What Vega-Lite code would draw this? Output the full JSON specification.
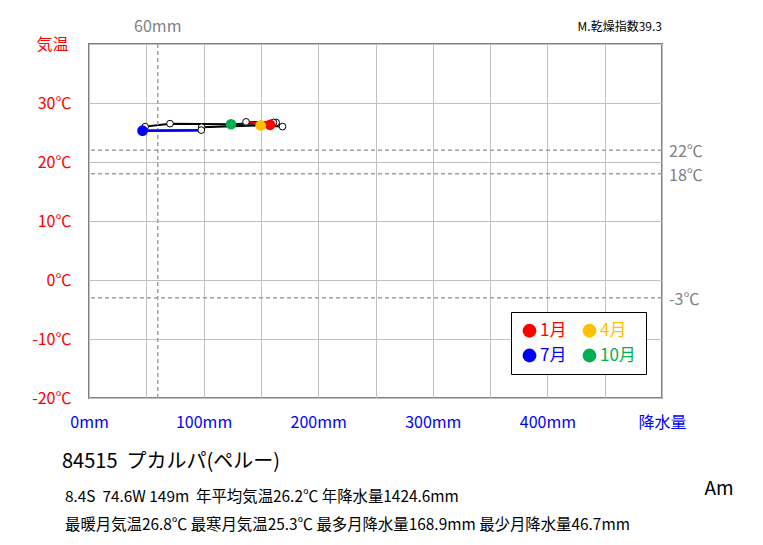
{
  "$schema": "https://vega.github.io/schema/vega-lite/v6.json",
  "autosize": {"type": "none"},
  "width": 573,
  "height": 354,
  "padding": {"left": 89, "top": 44, "right": 101, "bottom": 147},
  "background": "white",
  "config": {
    "view": {"stroke": "#808080", "strokeWidth": 2},
    "font": "Noto Sans CJK JP",
    "text": {"font": "Noto Sans CJK JP"}
  },
  "datasets": {
    "months": [
      {"month": 1, "precip": 158.0, "temp": 26.3, "leg": "1月"},
      {"month": 2, "precip": 163.3, "temp": 26.7},
      {"month": 3, "precip": 168.9, "temp": 26.0},
      {"month": 4, "precip": 149.8, "temp": 26.2, "leg": "4月"},
      {"month": 5, "precip": 98.3, "temp": 25.9},
      {"month": 6, "precip": 98.0, "temp": 25.4},
      {"month": 7, "precip": 46.7, "temp": 25.3, "leg": "7月"},
      {"month": 8, "precip": 49.0, "temp": 26.0},
      {"month": 9, "precip": 70.7, "temp": 26.5},
      {"month": 10, "precip": 123.9, "temp": 26.4, "leg": "10月"},
      {"month": 11, "precip": 161.0, "temp": 26.7},
      {"month": 12, "precip": 137.0, "temp": 26.8}
    ],
    "refs": [
      {"temp": 22, "label": "22℃"},
      {"temp": 18, "label": "18℃"},
      {"temp": -3, "label": "-3℃"}
    ],
    "vref": [{"precip": 60, "label": "60mm"}],
    "index": [{"label": "M.乾燥指数39.3"}],
    "koppen": [{"label": "Am"}],
    "station": [{"label": "84515\u00a0\u00a0プカルパ(ペルー)"}],
    "info1": [{"label": "8.4S\u00a0\u00a074.6W 149m\u00a0\u00a0年平均気温26.2℃ 年降水量1424.6mm"}],
    "info2": [{"label": "最暖月気温26.8℃ 最寒月気温25.3℃ 最多月降水量168.9mm 最少月降水量46.7mm"}]
  },
  "layer": [
    {
      "data": {"name": "months"},
      "mark": {"type": "line", "color": "black", "strokeWidth": 2},
      "encoding": {
        "x": {
          "field": "precip", "type": "quantitative",
          "scale": {"domain": [0, 500], "nice": false, "zero": false},
          "axis": {
            "title": null,
            "values": [0, 50, 100, 150, 200, 250, 300, 350, 400, 450, 500],
            "labelExpr": "datum.value == 500 ? '降水量' : (datum.value % 100 == 0 ? datum.value + 'mm' : '')",
            "grid": true, "gridColor": "#c0c0c0", "gridWidth": 1,
            "ticks": false, "domain": false,
            "labelColor": "#0000FF", "labelFontSize": 16, "labelPadding": 16,
            "labelOverlap": false, "labelBound": false, "labelFlush": false,
            "labelFont": "Noto Sans CJK JP"
          }
        },
        "y": {
          "field": "temp", "type": "quantitative",
          "scale": {"domain": [-20, 40], "nice": false, "zero": false},
          "axis": {
            "values": [-20, -10, 0, 10, 20, 30, 40],
            "labelExpr": "datum.value == 40 ? '' : datum.value + '℃'",
            "grid": true, "gridColor": "#c0c0c0", "gridWidth": 1,
            "ticks": false, "domain": false,
            "labelColor": "#FF0000", "labelFontSize": 16, "labelPadding": 18,
            "labelOverlap": false, "labelBound": false, "labelFlush": false,
            "labelFont": "Noto Sans CJK JP",
            "title": "気温", "titleAngle": 0, "titleColor": "#FF0000",
            "titleFontSize": 16, "titleFontWeight": "normal", "titleFont": "Noto Sans CJK JP",
            "titleX": -37, "titleY": 0, "titleAlign": "center", "titleBaseline": "middle"
          }
        },
        "order": {"field": "month", "type": "quantitative"}
      }
    },
    {
      "data": {"name": "refs"},
      "mark": {"type": "rule", "color": "#a0a0a0", "strokeWidth": 1.5, "strokeDash": [4, 3]},
      "encoding": {
        "y": {"field": "temp", "type": "quantitative"}
      }
    },
    {
      "data": {"name": "vref"},
      "mark": {"type": "rule", "color": "#a0a0a0", "strokeWidth": 1.5, "strokeDash": [4, 3]},
      "encoding": {
        "x": {"field": "precip", "type": "quantitative"}
      }
    },
    {
      "data": {"name": "refs"},
      "mark": {"type": "text", "align": "left", "baseline": "middle", "dx": 7, "dy": 2, "fontSize": 16, "color": "#808080"},
      "encoding": {
        "x": {"datum": 500, "type": "quantitative"},
        "y": {"field": "temp", "type": "quantitative"},
        "text": {"field": "label"}
      }
    },
    {
      "data": {"name": "vref"},
      "mark": {"type": "text", "align": "center", "baseline": "middle", "dy": -17, "fontSize": 16, "color": "#808080"},
      "encoding": {
        "x": {"field": "precip", "type": "quantitative"},
        "y": {"datum": 40, "type": "quantitative"},
        "text": {"field": "label"}
      }
    },
    {
      "data": {"name": "months"},
      "transform": [
        {"window": [{"op": "lead", "field": "precip", "as": "px2"}, {"op": "lead", "field": "temp", "as": "ty2"}], "sort": [{"field": "month"}]},
        {"filter": "datum.month == 6"}
      ],
      "mark": {"type": "rule", "color": "#0000FF", "strokeWidth": 2.5},
      "encoding": {
        "x": {"field": "precip", "type": "quantitative"},
        "y": {"field": "temp", "type": "quantitative"},
        "x2": {"field": "px2"},
        "y2": {"field": "ty2"}
      }
    },
    {
      "data": {"name": "months"},
      "transform": [
        {"window": [{"op": "first_value", "field": "precip", "as": "fx"}, {"op": "first_value", "field": "temp", "as": "fy"}], "sort": [{"field": "month"}], "frame": [null, null]},
        {"filter": "datum.month == 12"}
      ],
      "mark": {"type": "rule", "color": "#FF0000", "strokeWidth": 2.5},
      "encoding": {
        "x": {"field": "precip", "type": "quantitative"},
        "y": {"field": "temp", "type": "quantitative"},
        "x2": {"field": "fx"},
        "y2": {"field": "fy"}
      }
    },
    {
      "data": {"name": "months"},
      "transform": [{"filter": "!datum.leg"}],
      "mark": {"type": "point", "shape": "circle", "filled": true, "fill": "white", "stroke": "black", "strokeWidth": 1, "size": 45, "opacity": 1},
      "encoding": {
        "x": {"field": "precip", "type": "quantitative"},
        "y": {"field": "temp", "type": "quantitative"}
      }
    },
    {
      "data": {"name": "months"},
      "transform": [{"filter": "datum.leg"}],
      "mark": {"type": "point", "shape": "circle", "filled": true, "size": 115, "opacity": 1},
      "encoding": {
        "x": {"field": "precip", "type": "quantitative"},
        "y": {"field": "temp", "type": "quantitative"},
        "color": {
          "field": "leg", "type": "nominal",
          "scale": {"domain": ["1月", "4月", "7月", "10月"], "range": ["#FF0000", "#FFC000", "#0000FF", "#00B050"]},
          "legend": {
            "title": null, "orient": "none", "legendX": 422, "legendY": 268,
            "columns": 2, "direction": "horizontal",
            "symbolType": "circle", "symbolSize": 190, "symbolOpacity": 1, "symbolStrokeWidth": 0,
            "labelFontSize": 17, "labelFont": "Noto Sans CJK JP", "labelOffset": 2,
            "strokeColor": "black", "fillColor": "white", "padding": 10,
            "columnPadding": 14, "rowPadding": 7,
            "encode": {"labels": {"update": {"fill": {"scale": "color", "field": "value"}}}}
          }
        }
      }
    },
    {
      "data": {"name": "index"},
      "mark": {"type": "text", "align": "right", "baseline": "middle", "dy": -17, "fontSize": 12, "color": "black"},
      "encoding": {
        "x": {"datum": 500, "type": "quantitative"},
        "y": {"datum": 40, "type": "quantitative"},
        "text": {"field": "label"}
      }
    },
    {
      "data": {"name": "koppen"},
      "mark": {"type": "text", "align": "center", "baseline": "middle", "dx": 57, "dy": 91, "fontSize": 19, "color": "black"},
      "encoding": {
        "x": {"datum": 500, "type": "quantitative"},
        "y": {"datum": -20, "type": "quantitative"},
        "text": {"field": "label"}
      }
    },
    {
      "data": {"name": "station"},
      "mark": {"type": "text", "align": "left", "baseline": "middle", "dx": -27, "dy": 64, "fontSize": 20, "color": "black"},
      "encoding": {
        "x": {"datum": 0, "type": "quantitative"},
        "y": {"datum": -20, "type": "quantitative"},
        "text": {"field": "label"}
      }
    },
    {
      "data": {"name": "info1"},
      "mark": {"type": "text", "align": "left", "baseline": "middle", "dx": -24, "dy": 99, "fontSize": 15.4, "color": "black"},
      "encoding": {
        "x": {"datum": 0, "type": "quantitative"},
        "y": {"datum": -20, "type": "quantitative"},
        "text": {"field": "label"}
      }
    },
    {
      "data": {"name": "info2"},
      "mark": {"type": "text", "align": "left", "baseline": "middle", "dx": -24, "dy": 127, "fontSize": 15.4, "color": "black"},
      "encoding": {
        "x": {"datum": 0, "type": "quantitative"},
        "y": {"datum": -20, "type": "quantitative"},
        "text": {"field": "label"}
      }
    }
  ]
}
